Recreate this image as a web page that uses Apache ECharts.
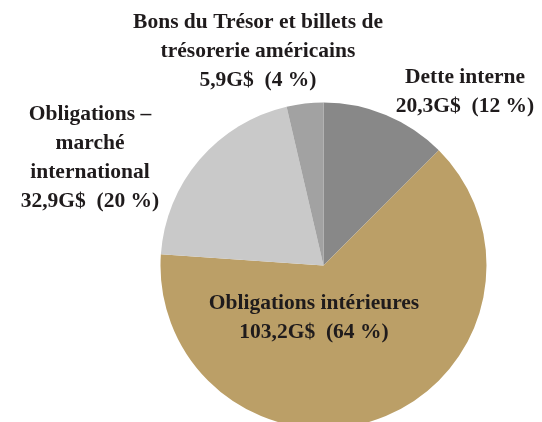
<!DOCTYPE html>
<html><head><meta charset="utf-8">
<script src="https://cdn.jsdelivr.net/npm/echarts@6/dist/echarts.min.js"></script>
<style>html,body{margin:0;padding:0;background:#fff}#c{width:542px;height:422px}</style>
</head><body><div id="c"></div>
<script>
const categories = ["Dette interne", "Obligations intérieures", "Obligations –\nmarché\ninternational", "Bons du Trésor et billets de\ntrésorerie américains"];
const values = [20.3, 103.2, 32.9, 5.9];
const valueLabels = ["20,3G$", "103,2G$", "32,9G$", "5,9G$"];
const percentLabels = ["12 %", "64 %", "20 %", "4 %"];
const colors = ["#888888", "#bb9f67", "#c9c9c9", "#a2a2a2"];
const labelSpots = [[465, 92], [314, 318], [90, 158], [258, 51]];

const chart = echarts.init(document.getElementById('c'));
chart.setOption({
  animation: false,
  series: [{
    type: 'pie',
    center: [323.5, 265.5],
    radius: 163,
    startAngle: 90,
    clockwise: true,
    silent: true,
    data: values.map((v, i) => ({ name: categories[i], value: v, itemStyle: { color: colors[i] } })),
    label: {
      show: true,
      position: 'inside',
      formatter: p => p.name + '\n' + valueLabels[p.dataIndex] + '  (' + percentLabels[p.dataIndex] + ')',
      fontFamily: 'Liberation Serif',
      fontWeight: 'bold',
      fontSize: 21.5,
      lineHeight: 29,
      color: '#1f1b1c',
      align: 'center'
    },
    labelLine: { show: false },
    labelLayout: p => ({ x: labelSpots[p.dataIndex][0], y: labelSpots[p.dataIndex][1], align: 'center', verticalAlign: 'middle' })
  }]
});
</script></body></html>
